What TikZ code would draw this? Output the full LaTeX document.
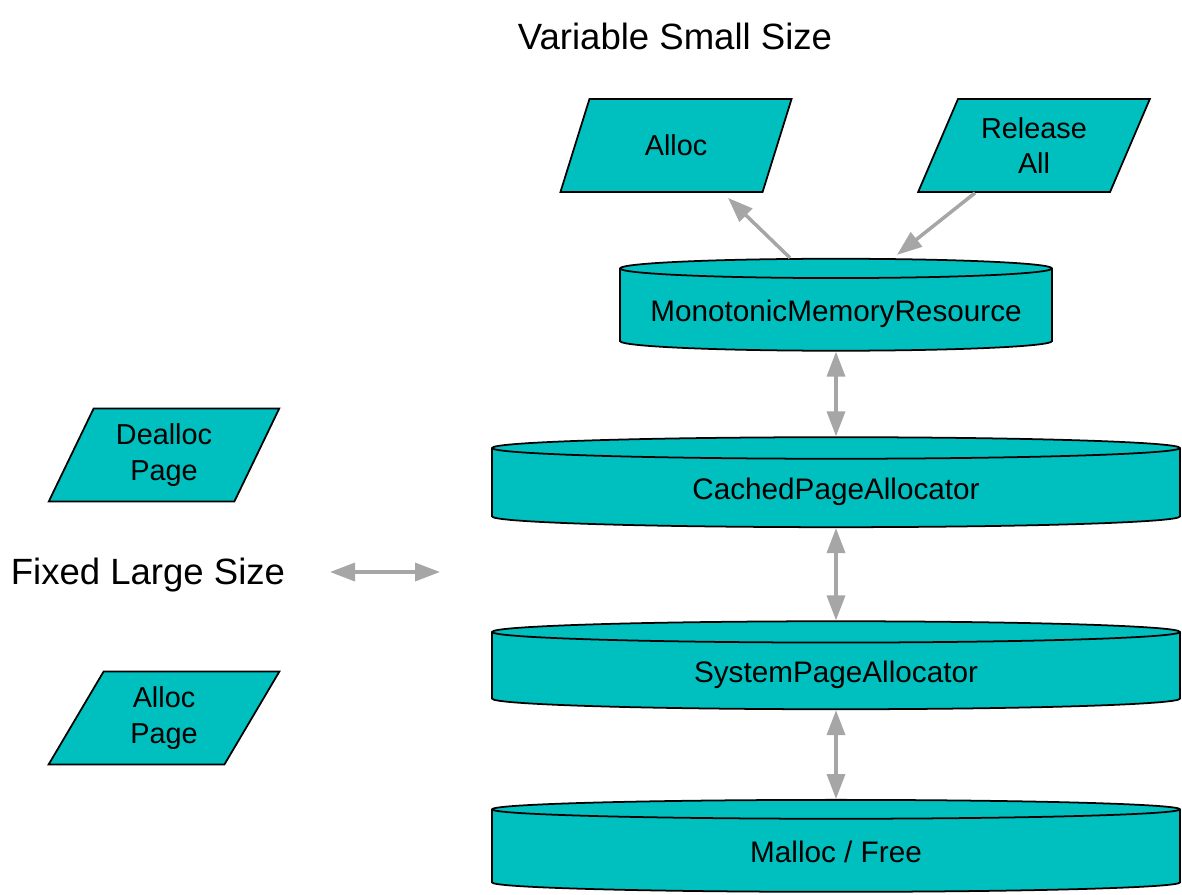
\documentclass[tikz,border=0pt]{standalone}
\usepackage{fontspec}
\setmainfont{Liberation Sans}
\usepackage{tikz}
\usepackage{xcolor}
\usetikzlibrary{shapes.geometric}
\usetikzlibrary{arrows.meta}

\definecolor{tealfill}{RGB}{0,191,191}
\definecolor{arrowgray}{RGB}{166,166,166}

\begin{document}
\begin{tikzpicture}
	[x=0.02cm, y=-0.02cm, line width=1pt,
	 io/.style = {draw, fill=tealfill, trapezium, trapezium left angle=63.7, trapezium right angle=116.3,
	   trapezium stretches=true, minimum width=4.64cm, minimum height=1.86cm, align=center,
	   font=\fontsize{16.4}{20}\selectfont, inner sep=0pt},
	 store/.style = {draw, fill=tealfill, cylinder, shape border rotate=90, aspect=0.08,
	   minimum height=1.84cm, font=\fontsize{16.9}{20}\selectfont, inner sep=0pt,
	   text height=0.54cm, text depth=0.09cm},
	 title/.style = {font=\fontsize{20.8}{24}\selectfont},
	 conn/.style = {draw=arrowgray, line width=2pt, -{Triangle[length=0.5cm, width=0.36cm]}},
	 both/.style = {conn, {Triangle[length=0.5cm, width=0.36cm]}-{Triangle[length=0.5cm, width=0.36cm]}}]
	\useasboundingbox (0,0) rectangle (1182,894);
	\node[title] (vss) at (675,36) {Variable Small Size};
	\node[io] (alloc) at (676,145.5) {Alloc};
	\node[io] (rel) at (1034,145.5) {Release\\All};
	\node[store, minimum width=8.64cm, aspect=0.052] (mmr) at (836,310) {MonotonicMemoryResource};
	\node[store, minimum width=13.76cm, minimum height=1.8cm, aspect=0.075] (cpa) at (836,488) {CachedPageAllocator};
	\node[store, minimum width=13.76cm, minimum height=1.76cm, aspect=0.075] (spa) at (836,671) {SystemPageAllocator};
	\node[store, minimum width=13.76cm, aspect=0.11] (mf) at (836,851) {Malloc / Free};
	\node[io] (dp) at (164,455) {Dealloc\\Page};
	\node[io] (ap) at (164,718) {Alloc\\Page};
	\node[title] (fls) at (148,575) {Fixed Large Size};
	\coordinate (fl) at (330,572);
	\coordinate (fr) at (440,572);
	\draw[conn] ([xshift=-0.92cm]mmr.north) -- ([xshift=1.04cm, yshift=-0.1cm]alloc.south);
	\draw[conn] ([xshift=-1.18cm]rel.south) -- ([xshift=1.22cm, yshift=0.06cm]mmr.north);
	\draw[both] (mmr.south) -- (cpa.north);
	\draw[both] (cpa.south) -- (spa.north);
	\draw[both] (spa.south) -- (mf.north);
	\draw[both] (fl) -- (fr);
\end{tikzpicture}
\end{document}
